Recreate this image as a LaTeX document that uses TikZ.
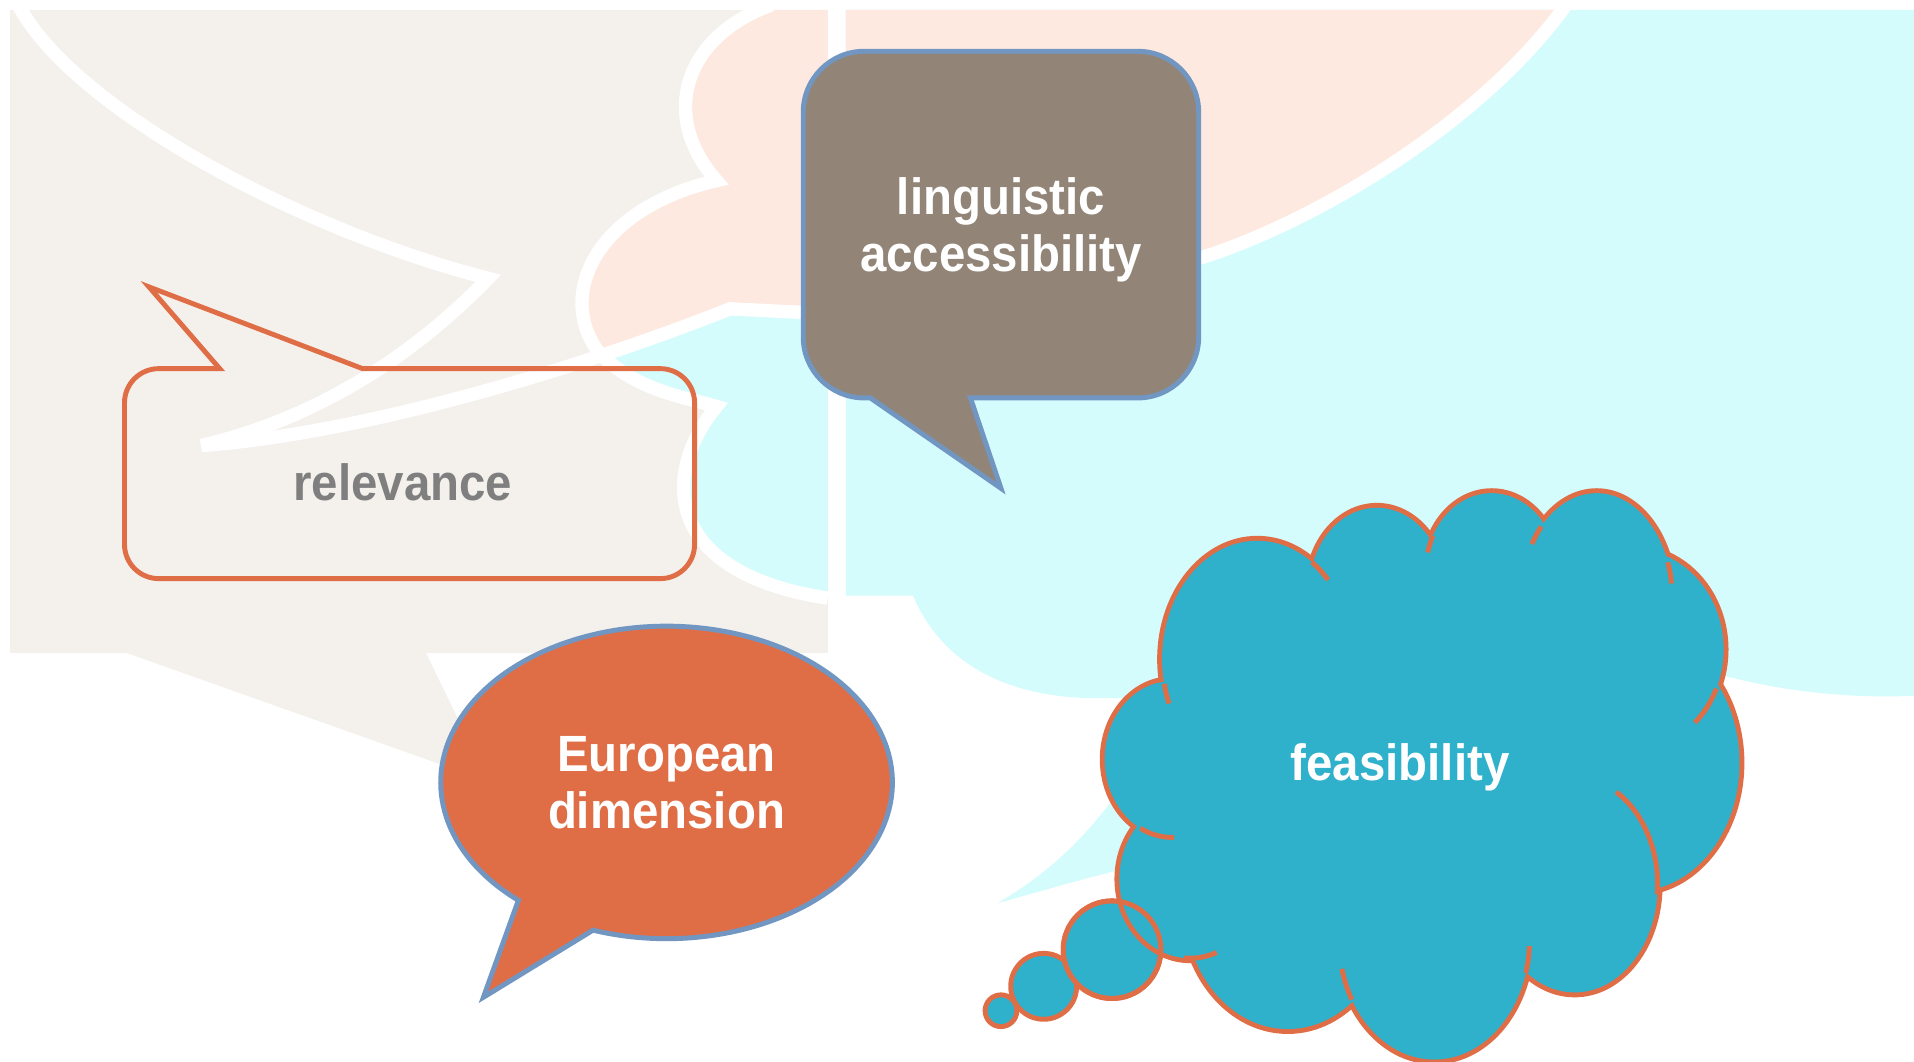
\documentclass[tikz,border=0pt]{standalone}
\usepackage{fontspec}
\setmainfont{Liberation Sans}[FakeStretch=0.93]
\usepackage{tikz}
\usepackage{xcolor}

\definecolor{bgbeige}{HTML}{F4F1EC}
\definecolor{bgpeach}{HTML}{FDE9DF}
\definecolor{bgcyan}{HTML}{D5FCFD}
\definecolor{orng}{HTML}{DF6E47}
\definecolor{bluline}{HTML}{7196C2}
\definecolor{taupe}{HTML}{928577}
\definecolor{cloudblue}{HTML}{2FB0CB}
\definecolor{relgray}{HTML}{7F7F7F}

\tikzset{
  wline/.style={white,line width=3.8pt},
  lbl/.style={font=\bfseries\fontsize{14.5}{16.3}\selectfont,text=white,align=center,inner sep=0pt},
  bubble/.style={draw=bluline,line width=1.4pt},
  cloudline/.style={draw=orng,line width=1.4pt},
}

\begin{document}
\begin{tikzpicture}[x=0.012207cm,y=-0.012207cm,line join=miter]
  \useasboundingbox (0,0) rectangle (1568,870);
  \fill[white] (0,0) rectangle (1568,870);
  % faded background
  \fill[bgbeige] (8,8) rectangle (678,535); \fill[bgbeige] (104,535) -- (400,640) -- (349,535) -- cycle;
  \fill[bgpeach] (632,8) .. controls (560,30) and (540,95) .. (587,148) .. controls (490,170) and (455,240) .. (490,288) -- (598,253) -- (678,258) -- (678,8) -- cycle;
  \fill[bgcyan] (490,288) -- (598,253) -- (678,258) -- (678,490) .. controls (545,470) and (540,390) .. (587,333) .. controls (560,325) and (520,320) .. (490,288) -- cycle;
  \fill[bgcyan] (693,8) -- (1568,8) -- (1568,570) .. controls (1500,573) and (1440,562) .. (1400,550) -- (950,572) -- (900,572) .. controls (820,572) and (770,540) .. (748,488) -- (693,488) -- cycle;
  \fill[bgpeach] (693,8) -- (1283,8) .. controls (1210,105) and (1070,185) .. (981,212) -- (700,258) -- (693,258) -- cycle;
  \fill[bgcyan] (817,740) .. controls (860,715) and (890,685) .. (915,650) -- (950,650) -- (950,705) .. controls (900,716) and (860,728) .. (817,740) -- cycle;
  \draw[wline] (15,4) .. controls (60,90) and (250,190) .. (400,228) .. controls (330,300) and (250,345) .. (165,365) .. controls (300,355) and (480,300) .. (598,253) -- (700,258);
  \draw[wline] (632,4) .. controls (560,30) and (540,95) .. (587,148) .. controls (490,170) and (455,240) .. (490,288) .. controls (520,320) and (560,325) .. (587,333) .. controls (540,390) and (545,470) .. (678,490);
  \draw[wline] (981,212) .. controls (1070,185) and (1210,105) .. (1283,4);

  % relevance
  \draw[draw=orng,line width=1.4pt] (180,302) -- (130,302) arc[start angle=-90,end angle=-180,radius=28] -- (102,446) arc[start angle=180,end angle=90,radius=28] -- (541,474) arc[start angle=90,end angle=0,radius=28] -- (569,330) arc[start angle=0,end angle=-90,radius=28] -- (297,302) -- (122,235) -- cycle;
  \node[lbl,text=relgray] (relv) at (330,395) {relevance};

  % linguistic accessibility
  \draw[bubble,fill=taupe] (795,326) -- (932,326) arc[start angle=90,end angle=0,radius=50] -- (982,92) arc[start angle=0,end angle=-90,radius=50] -- (708,42) arc[start angle=-90,end angle=-180,radius=50] -- (658,276) arc[start angle=180,end angle=90,radius=50] -- (713,326) -- (820,400) -- cycle;
  \node[lbl] (ling) at (820,188) {linguistic\\accessibility};

  % European dimension
  \draw[bubble,fill=orng] (485.8,762) arc[start angle=109,end angle=-229,x radius=185,y radius=128] -- (396,817) -- cycle;
  \node[lbl] (euro) at (546,641) {European\\dimension};

  % feasibility
  \foreach \cx/\cy/\r in {820/828/13, 855/808/27, 911/778/40} \draw[cloudline,fill=cloudblue] (\cx,\cy) circle[radius=\r];
  \foreach \cx/\cy/\rx/\ry in {1030/540/78/97, 1128/482/55/66, 1222/468/54/64, 1308/490/62/86, 1338/532/74/82, 1340/625/85/105, 1290/725/68/88, 1175/770/78/98, 1055/740/85/103, 975/720/58/65, 960/622/55/64}
    \draw[orng,line width=2.8pt] (\cx,\cy) ellipse[x radius=\rx,y radius=\ry];
  \fill[cloudblue] (1160,640) ellipse[x radius=200,y radius=170];
  \foreach \cx/\cy/\rx/\ry in {1030/540/78/97, 1128/482/55/66, 1222/468/54/64, 1308/490/62/86, 1338/532/74/82, 1340/625/85/105, 1290/725/68/88, 1175/770/78/98, 1055/740/85/103, 975/720/58/65, 960/622/55/64}
    \fill[cloudblue] (\cx,\cy) ellipse[x radius=\rx,y radius=\ry];
  \foreach \cx/\cy/\rx/\ry/\sa/\ea in {1030/540/78/97/-55/-42, 1030/540/78/97/168/158, 1222/468/54/64/207/194, 1308/490/62/86/223/211, 1308/490/62/86/-20/-8, 1338/532/74/82/23/47, 1290/725/68/88/5/-60, 1175/770/78/98/16/3, 1175/770/78/98/150/166, 975/720/58/65/95/68, 960/622/55/64/118/88}
    \draw[cloudline] (\cx,\cy) ++(\sa:{\rx} and {\ry}) arc[start angle=\sa,end angle=\ea,x radius=\rx,y radius=\ry];
  \draw[cloudline] (911,778) circle[radius=40];
  \node[lbl] (feas) at (1147,629) {feasibility};
\end{tikzpicture}
\end{document}
